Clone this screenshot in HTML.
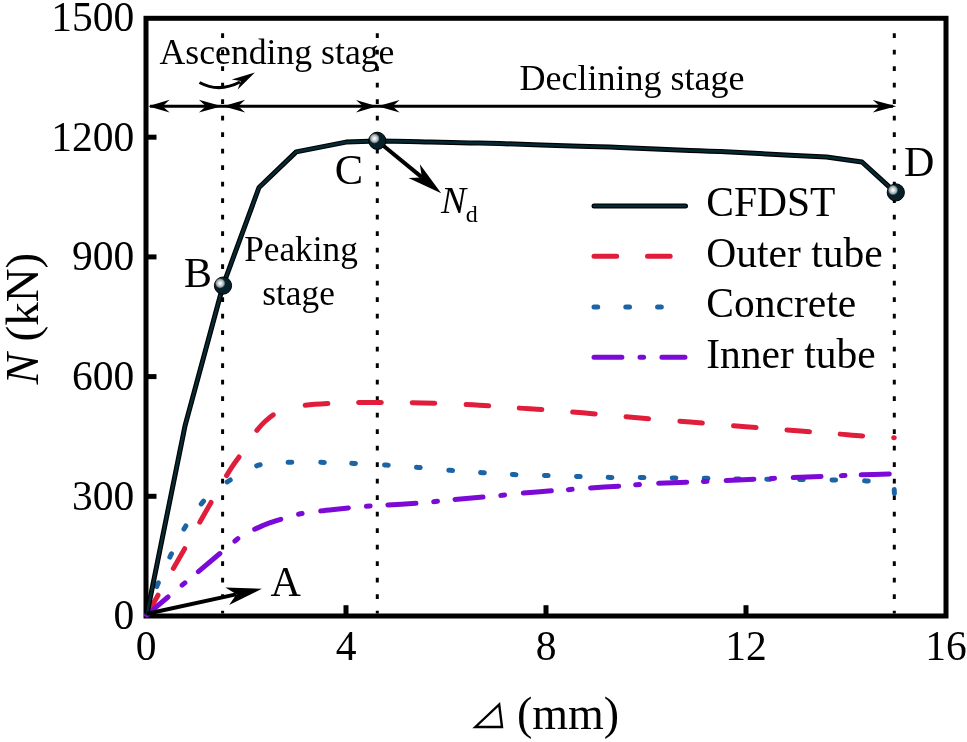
<!DOCTYPE html><html><head><meta charset="utf-8"><style>html,body{margin:0;padding:0;background:#fff;}svg{display:block;will-change:transform;}text{font-family:"Liberation Serif",serif;fill:#000;}</style></head><body>
<svg width="967" height="742" viewBox="0 0 967 742">
<defs><radialGradient id="hl" cx="0.5" cy="0.5" r="0.5"><stop offset="0" stop-color="#ffffff"/><stop offset="0.3" stop-color="#e4e8e9"/><stop offset="0.75" stop-color="#9aa6aa"/><stop offset="1" stop-color="#4d6168" stop-opacity="0.6"/></radialGradient></defs>
<line x1="222.6" y1="33.3" x2="222.6" y2="613.5" stroke="#000" stroke-width="3" stroke-dasharray="4.6 11.9"/>
<line x1="377.3" y1="33.3" x2="377.3" y2="613.5" stroke="#000" stroke-width="3" stroke-dasharray="4.6 11.9"/>
<line x1="894.3" y1="33.3" x2="894.3" y2="613.5" stroke="#000" stroke-width="3" stroke-dasharray="4.6 11.9"/>
<line x1="148" y1="496.30" x2="156.5" y2="496.30" stroke="#000" stroke-width="5"/>
<line x1="148" y1="376.60" x2="156.5" y2="376.60" stroke="#000" stroke-width="5"/>
<line x1="148" y1="256.90" x2="156.5" y2="256.90" stroke="#000" stroke-width="5"/>
<line x1="148" y1="137.20" x2="156.5" y2="137.20" stroke="#000" stroke-width="5"/>
<line x1="346.00" y1="614" x2="346.00" y2="605.2" stroke="#000" stroke-width="5"/>
<line x1="546.00" y1="614" x2="546.00" y2="605.2" stroke="#000" stroke-width="5"/>
<line x1="746.00" y1="614" x2="746.00" y2="605.2" stroke="#000" stroke-width="5"/>
<rect x="146" y="18.3" width="800" height="597.7" fill="none" stroke="#000" stroke-width="5"/>
<path d="M146.80,614.80 C153.33,603.38 172.80,569.33 186.00,546.30 C199.20,523.27 217.00,491.73 226.00,476.60 C235.00,461.47 236.17,461.43 240.00,455.50 C243.83,449.57 246.33,445.00 249.00,441.00 C251.67,437.00 253.33,434.75 256.00,431.50 C258.67,428.25 261.83,424.45 265.00,421.50 C268.17,418.55 270.83,416.02 275.00,413.80 C279.17,411.58 285.00,409.62 290.00,408.20 C295.00,406.78 298.57,406.08 305.00,405.30 C311.43,404.52 320.27,403.95 328.60,403.50 C336.93,403.05 346.00,402.77 355.00,402.60 C364.00,402.43 373.37,402.50 382.60,402.50 C391.83,402.50 401.42,402.47 410.40,402.60 C419.38,402.73 427.58,402.98 436.50,403.30 C445.42,403.62 454.98,404.07 463.90,404.50 C472.82,404.93 481.07,405.32 490.00,405.90 C498.93,406.48 508.58,407.38 517.50,408.00 C526.42,408.62 534.65,408.95 543.50,409.60 C552.35,410.25 561.77,411.17 570.60,411.90 C579.43,412.63 587.55,413.23 596.50,414.00 C605.45,414.77 615.35,415.70 624.30,416.50 C633.25,417.30 641.25,418.05 650.20,418.80 C659.15,419.55 669.13,420.27 678.00,421.00 C686.87,421.73 694.42,422.43 703.40,423.20 C712.38,423.97 722.88,424.87 731.90,425.60 C740.92,426.33 748.65,426.90 757.50,427.60 C766.35,428.30 776.15,429.10 785.00,429.80 C793.85,430.50 801.67,431.10 810.60,431.80 C819.53,432.50 829.75,433.30 838.60,434.00 C847.45,434.70 854.42,435.38 863.70,436.00 C872.98,436.62 889.20,437.42 894.30,437.70" fill="none" stroke="#e01e3c" stroke-width="5" stroke-linecap="round" stroke-dasharray="22.70 30.72 22.70 30.58 22.70 30.89 22.70 31.95 22.70 33.50 22.70 30.81 22.70 30.81 22.70 31.25 22.70 30.58 22.70 30.87 22.70 30.83 22.70 31.30 22.70 31.18 22.70 30.89 22.70 30.67 22.70 30.90 22.70 178.04"/>
<path d="M146.80,614.80 C147.67,612.00 150.15,603.17 152.00,598.00 C153.85,592.83 154.80,590.88 157.90,583.80 C161.00,576.72 166.10,564.88 170.60,555.50 C175.10,546.12 179.62,536.32 184.90,527.50 C190.18,518.68 197.28,508.85 202.30,502.60 C207.32,496.35 210.60,493.60 215.00,490.00 C219.40,486.40 224.03,484.00 228.70,481.00 C233.37,478.00 238.02,474.63 243.00,472.00 C247.98,469.37 253.43,466.70 258.60,465.20 C263.77,463.70 268.70,463.48 274.00,463.00 C279.30,462.52 282.83,462.42 290.40,462.30 C297.97,462.18 308.88,462.12 319.40,462.30 C329.92,462.48 342.43,462.95 353.50,463.40 C364.57,463.85 375.00,464.33 385.80,465.00 C396.60,465.67 407.50,466.52 418.30,467.40 C429.10,468.28 439.92,469.42 450.60,470.30 C461.28,471.18 471.82,471.98 482.40,472.70 C492.98,473.42 503.47,474.13 514.10,474.60 C524.73,475.07 535.50,475.18 546.20,475.50 C556.90,475.82 567.67,476.18 578.30,476.50 C588.93,476.82 599.38,477.22 610.00,477.40 C620.62,477.58 631.33,477.50 642.00,477.60 C652.67,477.70 663.33,477.88 674.00,478.00 C684.67,478.12 695.40,478.13 706.00,478.30 C716.60,478.47 727.17,478.85 737.60,479.00 C748.03,479.15 757.98,479.10 768.60,479.20 C779.22,479.30 790.43,479.47 801.30,479.60 C812.17,479.73 822.97,479.78 833.80,480.00 C844.63,480.22 857.10,480.65 866.30,480.90 C875.50,481.15 884.47,480.98 889.00,481.50 C893.53,482.02 892.58,481.58 893.50,484.00 C894.42,486.42 894.33,494.00 894.50,496.00" fill="none" stroke="#1b64a6" stroke-width="5" stroke-linecap="round" stroke-dasharray="3.70 26.66 3.70 28.08 3.70 27.75 3.70 26.70 3.70 30.64 3.70 29.98 3.70 28.20 3.70 28.89 3.70 27.21 3.70 29.18 3.70 28.35 3.70 28.73 3.70 28.19 3.70 28.06 3.70 28.41 3.70 28.42 3.70 28.01 3.70 28.30 3.70 28.30 3.70 28.30 3.70 27.91 3.70 27.30 3.70 29.00 3.70 28.80 3.70 28.81 3.70 32.31 3.70 202.78"/>
<path d="M146.80,614.80 C161.70,602.33 219.67,553.55 236.20,540.00 C252.73,526.45 243.00,535.27 246.00,533.50 C249.00,531.73 250.70,531.02 254.20,529.40 C257.70,527.78 262.52,525.50 267.00,523.80 C271.48,522.10 275.85,520.78 281.10,519.20 C286.35,517.62 292.68,515.58 298.50,514.30 C304.32,513.02 310.08,512.32 316.00,511.50 C321.92,510.68 325.60,510.28 334.00,509.40 C342.40,508.52 357.70,506.93 366.40,506.20 C375.10,505.47 377.73,505.50 386.20,505.00 C394.67,504.50 409.03,503.77 417.20,503.20 C425.37,502.63 429.10,502.22 435.20,501.60 C441.30,500.98 445.67,500.27 453.80,499.50 C461.93,498.73 475.87,497.72 484.00,497.00 C492.13,496.28 496.25,495.83 502.60,495.20 C508.95,494.57 513.83,493.93 522.10,493.20 C530.37,492.47 544.18,491.42 552.20,490.80 C560.22,490.18 564.00,489.97 570.20,489.50 C576.40,489.03 581.18,488.57 589.40,488.00 C597.62,487.43 611.48,486.65 619.50,486.10 C627.52,485.55 631.25,485.17 637.50,484.70 C643.75,484.23 648.25,483.75 657.00,483.30 C665.75,482.85 678.75,482.45 690.00,482.00 C701.25,481.55 713.73,481.07 724.50,480.60 C735.27,480.13 743.37,479.70 754.60,479.20 C765.83,478.70 780.67,478.05 791.90,477.60 C803.13,477.15 813.48,476.83 822.00,476.50 C830.52,476.17 836.77,475.87 843.00,475.60 C849.23,475.33 851.63,475.17 859.40,474.90 C867.17,474.63 883.75,474.18 889.60,474.00 C895.45,473.82 893.68,473.83 894.50,473.80" fill="none" stroke="#7c0ad6" stroke-width="5" stroke-linecap="round" stroke-dasharray="27.90 18.28 3.60 17.43 27.90 19.65 3.60 22.83 27.90 18.47 3.60 18.75 27.90 18.05 3.60 18.06 27.90 18.04 3.60 17.82 27.90 18.09 3.60 19.05 27.90 17.30 3.60 18.66 27.90 17.31 3.60 19.38 27.90 16.79 3.60 19.06 27.90 17.03 3.60 18.63 27.90 20.33 3.60 16.49 27.90 205.34"/>
<path d="M146.80,614.80 L185.00,425.90 L223.20,285.00 L259.00,187.50 L296.20,151.90 L346.00,142.10 L377.20,140.90 L377.20,140.90 C382.47,140.98 400.00,141.22 408.80,141.40 C417.60,141.58 419.80,141.75 430.00,142.00 C440.20,142.25 458.33,142.63 470.00,142.90 C481.67,143.17 481.67,143.03 500.00,143.60 C518.33,144.17 560.00,145.67 580.00,146.30 C600.00,146.93 601.67,146.70 620.00,147.40 C638.33,148.10 671.67,149.75 690.00,150.50 C708.33,151.25 713.33,151.10 730.00,151.90 C746.67,152.70 773.92,154.45 790.00,155.30 C806.08,156.15 820.42,156.72 826.50,157.00 L862.00,162.00 L895.60,192.60" fill="none" stroke="#000" stroke-width="5" stroke-linejoin="round"/>
<path d="M146.80,614.80 L185.00,425.90 L223.20,285.00 L259.00,187.50 L296.20,151.90 L346.00,142.10 L377.20,140.90 L377.20,140.90 C382.47,140.98 400.00,141.22 408.80,141.40 C417.60,141.58 419.80,141.75 430.00,142.00 C440.20,142.25 458.33,142.63 470.00,142.90 C481.67,143.17 481.67,143.03 500.00,143.60 C518.33,144.17 560.00,145.67 580.00,146.30 C600.00,146.93 601.67,146.70 620.00,147.40 C638.33,148.10 671.67,149.75 690.00,150.50 C708.33,151.25 713.33,151.10 730.00,151.90 C746.67,152.70 773.92,154.45 790.00,155.30 C806.08,156.15 820.42,156.72 826.50,157.00 L862.00,162.00 L895.60,192.60" fill="none" stroke="#062a33" stroke-width="2.6" stroke-linejoin="round"/>
<line x1="147" y1="613.8" x2="236" y2="594.4" stroke="#000" stroke-width="4"/>
<path d="M261.90,588.70 L229.14,605.07 L236.50,594.25 L225.30,587.48 Z" fill="#000"/>
<line x1="377.3" y1="140.8" x2="422" y2="177.4" stroke="#000" stroke-width="4"/>
<path d="M441.20,193.30 L408.44,178.04 L421.88,177.43 L419.87,164.13 Z" fill="#000"/>
<line x1="150" y1="106.2" x2="893" y2="106.2" stroke="#000" stroke-width="3"/>
<path d="M148.10,106.20 L169.60,99.80 L162.60,106.20 L169.60,112.60 Z" fill="#000"/>
<path d="M221.90,106.20 L198.90,112.60 L205.90,106.20 L198.90,99.80 Z" fill="#000"/>
<path d="M223.20,106.20 L245.20,99.80 L238.20,106.20 L245.20,112.60 Z" fill="#000"/>
<path d="M377.00,106.20 L356.00,112.50 L363.00,106.20 L356.00,99.90 Z" fill="#000"/>
<path d="M377.60,106.20 L399.60,99.90 L392.60,106.20 L399.60,112.50 Z" fill="#000"/>
<path d="M896.30,106.20 L872.80,112.40 L879.80,106.20 L872.80,100.00 Z" fill="#000"/>
<path d="M199.5,82.5 Q219,93 240,82" fill="none" stroke="#000" stroke-width="3"/>
<path d="M254.90,72.40 L237.74,89.47 L240.76,80.90 L231.77,79.53 Z" fill="#000"/>
<circle cx="223.0" cy="285.6" r="8.6" fill="#062129" stroke="#000" stroke-width="1"/>
<circle cx="220.2" cy="283.3" r="5" fill="url(#hl)"/>
<circle cx="377.3" cy="140.8" r="8.6" fill="#062129" stroke="#000" stroke-width="1"/>
<circle cx="374.5" cy="138.5" r="5" fill="url(#hl)"/>
<circle cx="895.8" cy="192.4" r="8.6" fill="#062129" stroke="#000" stroke-width="1"/>
<circle cx="893.0" cy="190.1" r="5" fill="url(#hl)"/>
<text x="134.3" y="629.30" font-size="41.5" text-anchor="end">0</text>
<text x="134.3" y="509.60" font-size="41.5" text-anchor="end">300</text>
<text x="134.3" y="389.90" font-size="41.5" text-anchor="end">600</text>
<text x="134.3" y="270.20" font-size="41.5" text-anchor="end">900</text>
<text x="134.3" y="150.50" font-size="41.5" text-anchor="end">1200</text>
<text x="134.3" y="30.80" font-size="41.5" text-anchor="end">1500</text>
<text x="146.00" y="659.7" font-size="41.5" text-anchor="middle">0</text>
<text x="346.00" y="659.7" font-size="41.5" text-anchor="middle">4</text>
<text x="546.00" y="659.7" font-size="41.5" text-anchor="middle">8</text>
<text x="746.00" y="659.7" font-size="41.5" text-anchor="middle">12</text>
<text x="946.00" y="659.7" font-size="41.5" text-anchor="middle">16</text>
<path d="M475.3,727 L499.2,704.5 L502,727 Z" fill="none" stroke="#000" stroke-width="2.4" stroke-linejoin="miter"/>
<text x="516.9" y="728.5" font-size="46">(mm)</text>
<text transform="translate(37.5,318.7) rotate(-90)" font-size="47" text-anchor="middle"><tspan font-style="italic">N</tspan> (kN)</text>
<text x="277" y="64" font-size="35.7" text-anchor="middle">Ascending stage</text>
<text x="632" y="90.3" font-size="36" text-anchor="middle">Declining stage</text>
<text x="301" y="260.6" font-size="35.3" text-anchor="middle">Peaking</text>
<text x="298.6" y="304.6" font-size="35.3" text-anchor="middle">stage</text>
<text x="184" y="286.7" font-size="42">B</text>
<text x="334.8" y="184" font-size="42.5">C</text>
<text x="904" y="175.8" font-size="42">D</text>
<text x="270.5" y="596" font-size="42">A</text>
<text x="441" y="212.6" font-size="37.5" font-style="italic">N</text><text x="465.8" y="222" font-size="24">d</text>
<line x1="594" y1="206" x2="685.5" y2="206" stroke="#000" stroke-width="5" stroke-linecap="round"/>
<line x1="594" y1="206" x2="685.5" y2="206" stroke="#062a33" stroke-width="2.4" stroke-linecap="round"/>
<line x1="594" y1="256.3" x2="685" y2="256.3" stroke="#e01e3c" stroke-width="5" stroke-linecap="round" stroke-dasharray="22.7 30.8"/>
<line x1="594" y1="306.9" x2="685" y2="306.9" stroke="#1b64a6" stroke-width="5" stroke-linecap="round" stroke-dasharray="3.7 28.1"/>
<line x1="594" y1="357.3" x2="685" y2="357.3" stroke="#7c0ad6" stroke-width="5" stroke-linecap="round" stroke-dasharray="27.9 18.1 3.6 18.3"/>
<text x="706.3" y="216.3" font-size="41.5">CFDST</text>
<text x="706.3" y="266.7" font-size="41.5">Outer tube</text>
<text x="706.3" y="317.1" font-size="41.5">Concrete</text>
<text x="706.3" y="367.5" font-size="41.5">Inner tube</text>
</svg></body></html>
